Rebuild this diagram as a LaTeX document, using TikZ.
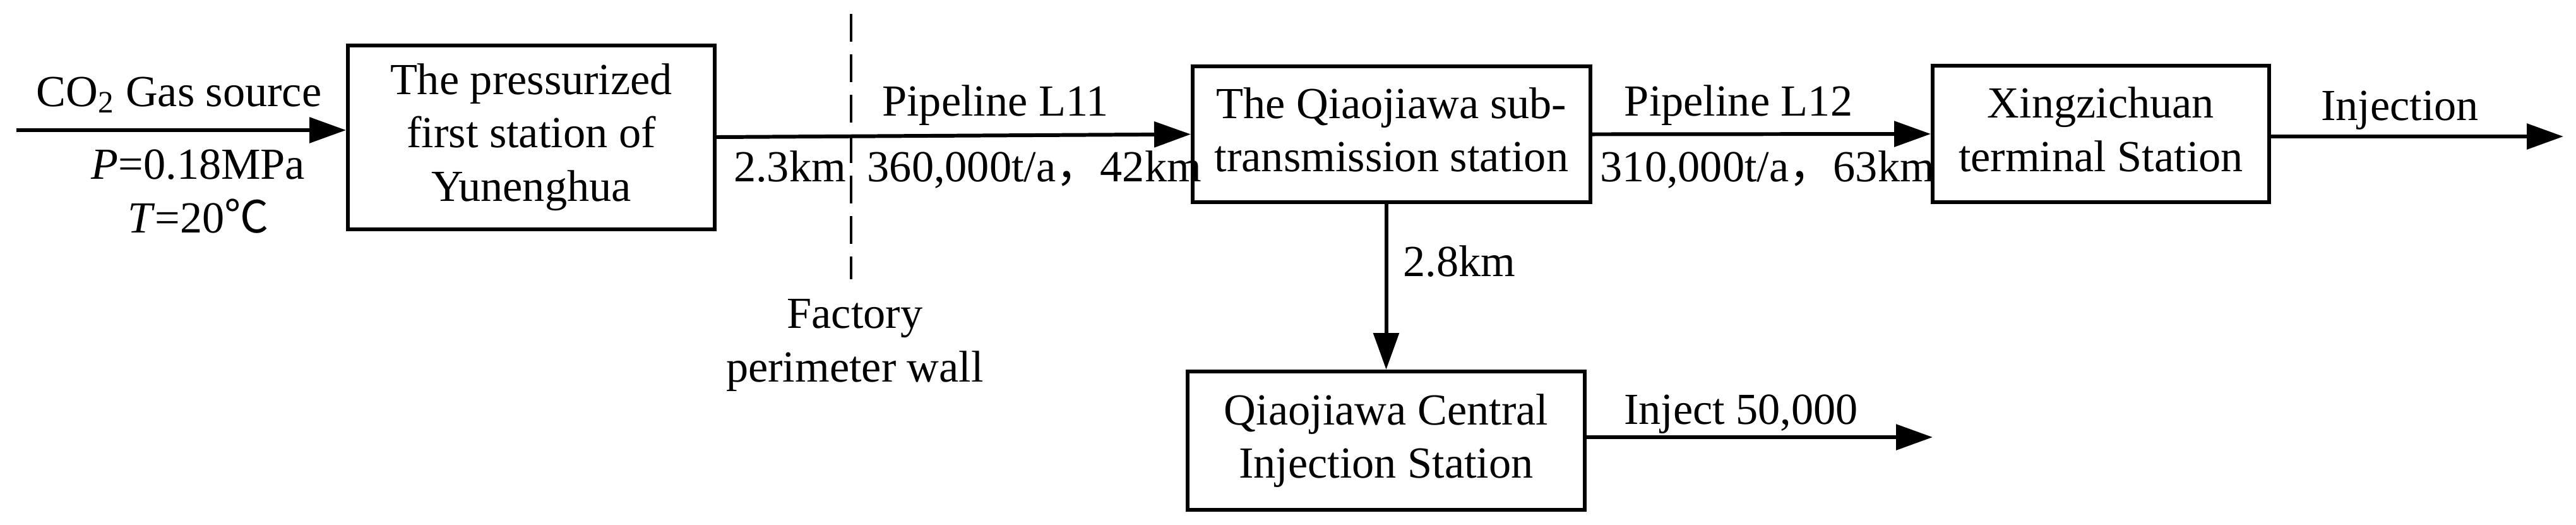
\documentclass[tikz,border=0pt]{standalone}
\usepackage{fontspec}
\setmainfont{Liberation Serif}
\newfontfamily\cjk{Noto Sans CJK SC}
\usepackage{tikz}
\usetikzlibrary{arrows.meta}
\newcommand{\stacklines}[1]{\begin{tabular}{@{}c@{}}#1\end{tabular}}
\tikzstyle{station} = [rectangle, line width=1.7pt, draw=black, inner sep=0pt, font=\fontsize{20}{24}\selectfont]
\tikzstyle{txt} = [inner sep=0pt, font=\fontsize{20}{24}\selectfont]
\tikzstyle{arrow} = [line width=1.7pt, -{Triangle[length=0.58cm,width=0.4cm]}]
\tikzstyle{wall} = [line width=1.4pt, dash pattern=on 0.44cm off 0.2cm]

\begin{document}
\begin{tikzpicture}
\useasboundingbox (0,0) rectangle (40.8,-8.3);
% Nodes
\node (first) [station, minimum width=5.81cm, minimum height=2.91cm] at (8.415,-2.17) {\stacklines{The pressurized\\first station of\\Yunenghua}};
\node (sub) [station, minimum width=6.30cm, minimum height=2.15cm] at (22.04,-2.125) {\stacklines{The Qiaojiawa sub-\\transmission station}};
\node (central) [station, minimum width=6.29cm, minimum height=2.19cm] at (21.955,-6.975) {\stacklines{Qiaojiawa Central\\Injection Station}};
\node (terminal) [station, minimum width=5.33cm, minimum height=2.16cm] at (33.275,-2.12) {\stacklines{Xingzichuan\\terminal Station}};

\coordinate (source) at (0.26,-2.06);
\coordinate (wallTop) at (13.48,-0.22);
\coordinate (wallBot) at (13.48,-4.42);
\coordinate (outTerminal) at (40.6,-2.16);
\coordinate (outCentral) at (30.61,-6.92);

% Labels
\node (gas) [txt, anchor=base] at (2.835,-1.68) {CO\textsubscript{2} Gas source};
\node (cond) [txt, anchor=north] at (3.14,-2.24) {\stacklines{\textit{P}=0.18MPa\\\textit{T}=20{\cjk ℃}}};
\node (len1) [txt, anchor=base] at (12.51,-2.87) {2.3km};
\node (pipe11) [txt, anchor=base] at (15.765,-1.83) {Pipeline L11};
\node (flow11) [txt, anchor=base west] at (13.73,-2.87) {360,000t/a{\cjk ，}42km};
\node (wallname) [txt, anchor=north] at (13.54,-4.60) {\stacklines{Factory\\perimeter wall}};
\node (len2) [txt, anchor=base west] at (22.22,-4.37) {2.8km};
\node (pipe12) [txt, anchor=base] at (27.535,-1.83) {Pipeline L12};
\node (flow12) [txt, anchor=base west] at (25.34,-2.87) {310,000t/a{\cjk ，}63km};
\node (inj) [txt, anchor=base] at (38.01,-1.90) {Injection};
\node (inj2) [txt, anchor=base] at (27.575,-6.71) {Inject 50,000};

% Arrows
\draw [arrow] (source) -- (source -| first.west);
\draw [arrow] (first.east) -- (sub.west);
\draw [wall] (wallTop) -- (wallBot);
\draw [arrow] (sub.east) -- (terminal.west);
\draw [arrow] (outTerminal -| terminal.east) -- (outTerminal);
\draw [arrow] (sub.south -| central.north) -- (central.north);
\draw [arrow] (outCentral -| central.east) -- (outCentral);
\end{tikzpicture}
\end{document}
